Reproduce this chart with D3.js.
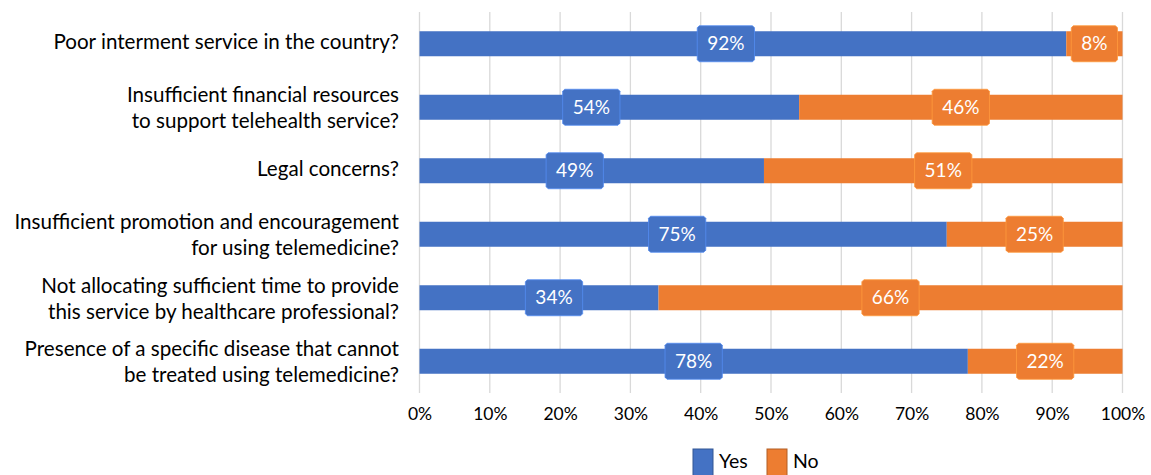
<!DOCTYPE html>
<html>
<head>
<meta charset="utf-8">
<script src="https://cdn.jsdelivr.net/npm/d3@7"></script>
<style>
  body { margin: 0; background: #fff; }
  text { font-family: Lato, "Open Sans", sans-serif; }
</style>
</head>
<body>
<div id="chart-area"></div>
<script>
// categories (top to bottom), one array of lines per label
var categories = [
    ["Poor interment service in the country?"],
    ["Insufficient financial resources", "to support telehealth service?"],
    ["Legal concerns?"],
    ["Insufficient promotion and encouragement", "for using telemedicine?"],
    ["Not allocating sufficient time to provide", "this service by healthcare professional?"],
    ["Presence of a specific disease that cannot", "be treated using telemedicine?"]
];
var yesValues = [92, 54, 49, 75, 34, 78];
var noValues = [8, 46, 51, 25, 66, 22];
var seriesNames = ["Yes", "No"];
var tickValues = [0, 10, 20, 30, 40, 50, 60, 70, 80, 90, 100];

var colors = { Yes: "#4472C4", No: "#ED7D31" };
// the original's Yes labels were dragged a little off centre
var yesLabelNudge = [-17, -18, -17, -6, 15, 0];

var width = 1151, height = 475;

var svg = d3.select("#chart-area")
    .append("svg")
    .attr("width", width)
    .attr("height", height);

var x = d3.scaleLinear()
    .domain([0, 100])
    .range([419.5, 1122.5]);

var y = d3.scaleBand()
    .domain(d3.range(categories.length))
    .range([12, 393])
    .paddingInner(38.5 / 63.5)
    .paddingOuter(38.5 / 63.5 / 2);

// gridlines
svg.append("g")
    .selectAll("line")
    .data(tickValues)
    .enter()
    .append("line")
    .attr("x1", d => x(d))
    .attr("x2", d => x(d))
    .attr("y1", 12)
    .attr("y2", 393)
    .attr("stroke", "#d9d9d9")
    .attr("stroke-width", 1.3);

// tick labels
var xAxisCall = d3.axisBottom(x)
    .tickValues(tickValues)
    .tickSize(0)
    .tickPadding(0)
    .tickFormat(d => d + "%");

var xAxis = svg.append("g")
    .attr("class", "x-axis")
    .attr("transform", "translate(0, 405)")
    .call(xAxisCall);
xAxis.select(".domain").remove();
xAxis.selectAll("text")
    .attr("dy", null)
    .attr("y", 15)
    .attr("fill", "#000")
    .attr("font-size", "17.5px")
    .attr("font-family", "Lato, sans-serif");

// stacked data
var rows = categories.map((c, i) => ({ i: i, Yes: yesValues[i], No: noValues[i] }));
var stack = d3.stack().keys(seriesNames)(rows);

var bars = svg.append("g");
stack.forEach(layer => {
    bars.selectAll(null)
        .data(layer)
        .enter()
        .append("rect")
        .attr("x", d => x(d[0]))
        .attr("y", d => y(d.data.i))
        .attr("width", d => x(d[1]) - x(d[0]))
        .attr("height", y.bandwidth())
        .attr("fill", colors[layer.key]);
});

// labels in bevelled boxes
function boxPath(cx, cy, w, h, c) {
    var l = cx - w / 2, r = cx + w / 2, t = cy - h / 2, b = cy + h / 2;
    return `M${l + c},${t}H${r - c}L${r},${t + c}V${b - c}L${r - c},${b}H${l + c}L${l},${b - c}V${t + c}Z`;
}

var labels = svg.append("g");
stack.forEach(layer => {
    layer.forEach(d => {
        var i = d.data.i;
        var cx = (x(d[0]) + x(d[1])) / 2;
        if (layer.key === "Yes") cx += yesLabelNudge[i];
        var cy = y(i) + y.bandwidth() / 2;
        var txt = d.data[layer.key] + "%";
        var g = labels.append("g");
        var t = g.append("text")
            .attr("x", cx)
            .attr("y", cy + 6.5)
            .attr("text-anchor", "middle")
            .attr("font-size", "19px")
            .attr("fill", "#fff")
            .text(txt);
        var w = t.node().getComputedTextLength() + 20;
        g.insert("path", "text")
            .attr("d", boxPath(cx, cy, w, 36, 2))
            .attr("fill", colors[layer.key])
            .attr("stroke", d3.color(colors[layer.key]).brighter(0.6))
            .attr("stroke-width", 0.8);
    });
});

// category labels
var catG = svg.append("g");
categories.forEach((lines, i) => {
    var c = y(i) + y.bandwidth() / 2;
    var offs = lines.length === 1 ? [5.5] : [-5, 21];
    lines.forEach((line, j) => {
        catG.append("text")
            .attr("x", 399)
            .attr("y", c + offs[j])
            .attr("text-anchor", "end")
            .attr("font-size", "20.6px")
            .attr("fill", "#000")
            .text(line);
    });
});

// legend
var legendX = [693, 767];
var legend = svg.append("g");
seriesNames.forEach((name, k) => {
    legend.append("rect")
        .attr("x", legendX[k])
        .attr("y", 449)
        .attr("width", 20)
        .attr("height", 30)
        .attr("fill", colors[name])
        .attr("stroke", d3.color(colors[name]).darker(0.8))
        .attr("stroke-width", 1);
    legend.append("text")
        .attr("x", legendX[k] + 26)
        .attr("y", 468)
        .attr("font-size", "19.5px")
        .attr("fill", "#000")
        .text(name);
});
</script>
</body>
</html>
